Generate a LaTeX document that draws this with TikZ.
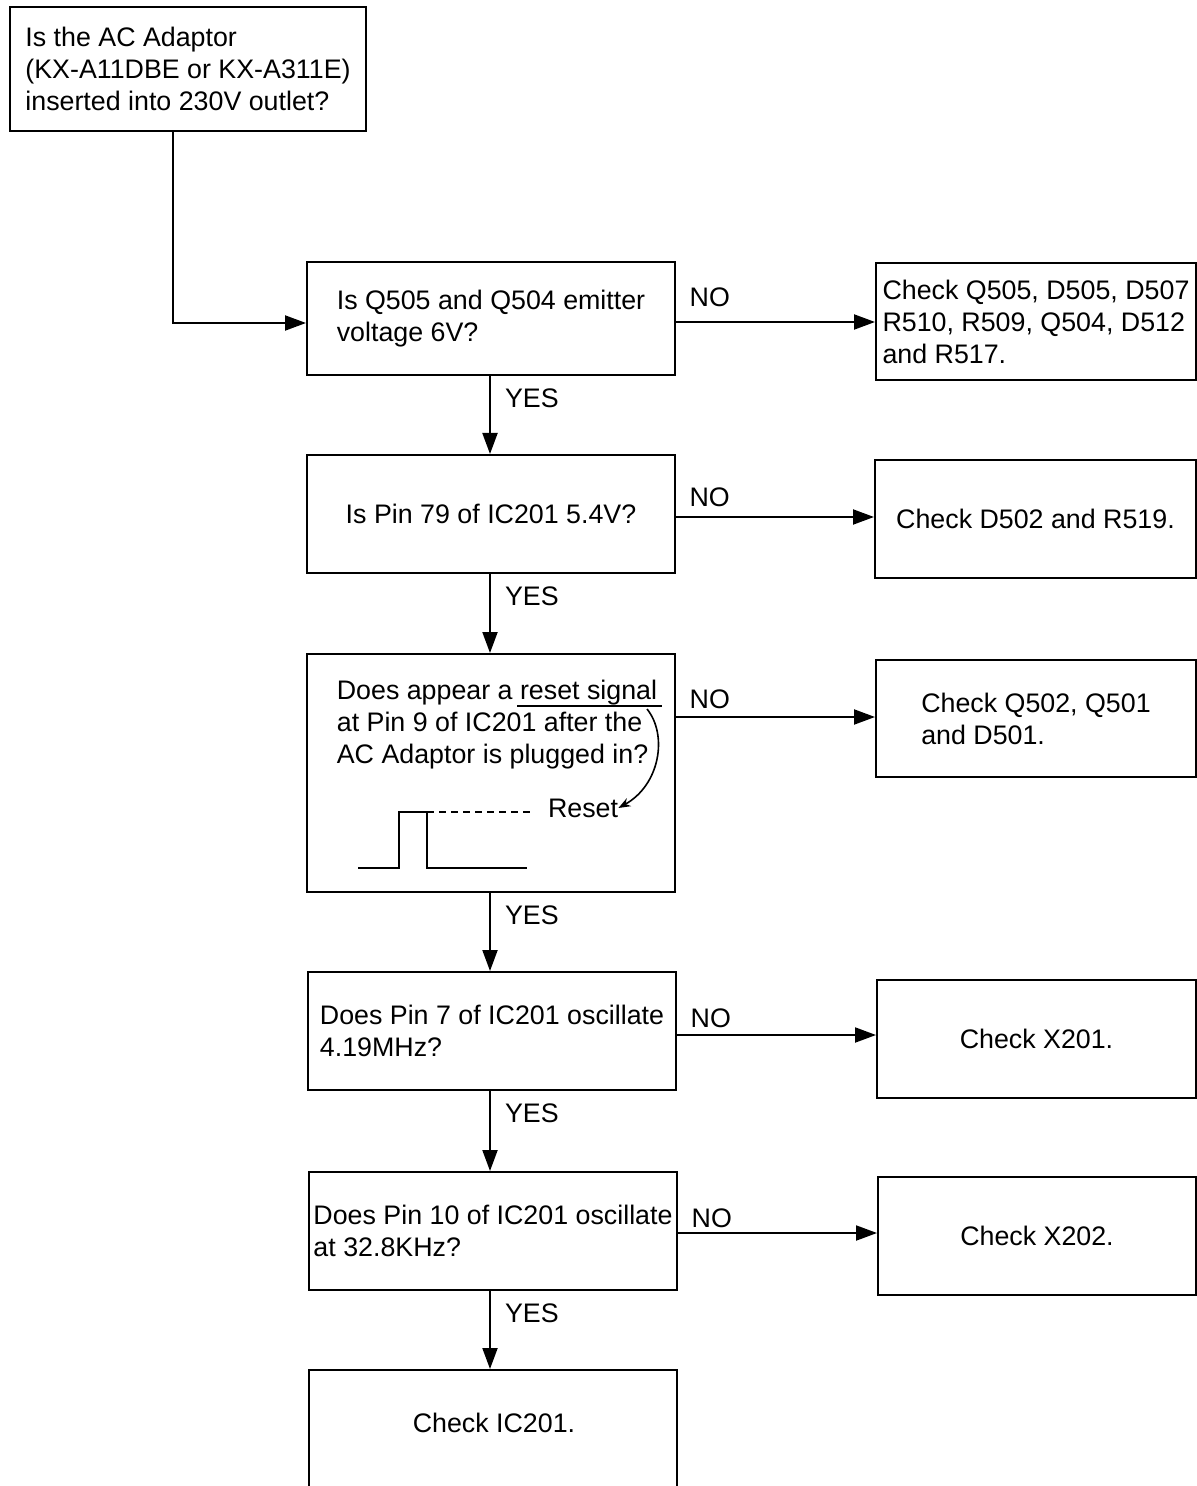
\documentclass[tikz,border=0pt]{standalone}
\usepackage{fontspec}
\setmainfont{Liberation Sans}
\usetikzlibrary{arrows.meta}
\newcommand\diafont{\fontsize{13.4}{16}\selectfont}
\begin{document}
\begin{tikzpicture}[x=0.5pt,y=-0.5pt,
  box/.style={draw,line width=1pt,align=left,inner sep=0pt,font=\diafont},
  txt/.style={align=left,inner sep=0pt,font=\diafont},
  arr/.style={line width=1pt,-{Triangle[length=10.5pt,width=7.5pt]}},
  lbl/.style={inner sep=0pt,font=\diafont}]
\useasboundingbox (0,0) rectangle (1197,1486);
\clip (0,0) rectangle (1197,1486);
% left column
\node[box,minimum width=178pt,minimum height=62pt] (start) at (188,69)
  {Is the AC Adaptor\\(KX-A11DBE or KX-A311E)\\inserted into 230V outlet?};
\node[box,minimum width=184pt,minimum height=56.5pt] (b1) at (491,318.5)
  {Is Q505 and Q504 emitter\\voltage 6V?};
\node[box,minimum width=184pt,minimum height=59pt] (b2) at (491,514)
  {Is Pin 79 of IC201 5.4V?};
\node[box,minimum width=184pt,minimum height=119pt] (b3) at (491,773) {};
\node[txt] (b3t) at (497,725)
  {Does appear a reset signal\\at Pin 9 of IC201 after the\\AC Adaptor is plugged in?};
\node[box,minimum width=184pt,minimum height=59pt] (b4) at (492,1031)
  {Does Pin 7 of IC201 oscillate\\4.19MHz?};
\node[box,minimum width=184pt,minimum height=59pt] (b5) at (493,1231)
  {Does Pin 10 of IC201 oscillate\\at 32.8KHz?};
\node[box,minimum width=184pt,minimum height=65pt] (b6) at (493,1435) {};
\node[txt] (b6t) at (494,1423) {Check IC201.};
% right column
\node[box,minimum width=160pt,minimum height=58.5pt] (r1) at (1036,321.5)
  {Check Q505, D505, D507\\R510, R509, Q504, D512\\and R517.};
\node[box,minimum width=160.5pt,minimum height=59pt] (r2) at (1035.5,519)
  {Check D502 and R519.};
\node[box,minimum width=160pt,minimum height=58.5pt] (r3) at (1036,718.5)
  {Check Q502, Q501\\and D501.};
\node[box,minimum width=159.5pt,minimum height=59pt] (r4) at (1036.5,1039)
  {Check X201.};
\node[box,minimum width=159pt,minimum height=59pt] (r5) at (1037,1236)
  {Check X202.};
% reset signal sketch
\draw[line width=0.8pt] (517,706) -- (662,706);
\node[txt] (rst) at (583,808) {Reset};
\draw[line width=0.8pt,-{Stealth[length=6pt,width=4.5pt]}]
  (647,709) .. controls (668,735) and (660,785) .. (rst.east);
\draw[line width=1pt] (358,868) -- (399,868) -- (399,812) -- (427,812) -- (427,868) -- (527,868);
\draw[line width=0.8pt,dash pattern=on 3.5pt off 2.5pt] (427,812) -- (530,812);
% connectors
\draw[arr] (start.south -| 173,0) |- (b1.west |- 0,323);
\draw[arr] (b1.east |- 0,322) -- (r1.west |- 0,322) node[lbl,pos=0.17,above=7pt] {NO};
\draw[arr] (b2.east |- 0,517) -- (r2.west |- 0,517) node[lbl,pos=0.17,above=4.5pt] {NO};
\draw[arr] (b3.east |- 0,717) -- (r3.west |- 0,717) node[lbl,pos=0.17,above=3.5pt] {NO};
\draw[arr] (b4.east |- 0,1035) -- (r4.west |- 0,1035) node[lbl,pos=0.17,above=3pt] {NO};
\draw[arr] (b5.east |- 0,1233) -- (r5.west |- 0,1233) node[lbl,pos=0.17,above=2pt] {NO};
\draw[arr] (b1.south -| 490,0) -- (b2.north -| 490,0) node[lbl,pos=0.28,right=7pt] {YES};
\draw[arr] (b2.south -| 490,0) -- (b3.north -| 490,0) node[lbl,pos=0.28,right=7pt] {YES};
\draw[arr] (b3.south -| 490,0) -- (b4.north -| 490,0) node[lbl,pos=0.28,right=7pt] {YES};
\draw[arr] (b4.south -| 490,0) -- (b5.north -| 490,0) node[lbl,pos=0.28,right=7pt] {YES};
\draw[arr] (b5.south -| 490,0) -- (b6.north -| 490,0) node[lbl,pos=0.28,right=7pt] {YES};
\end{tikzpicture}
\end{document}
